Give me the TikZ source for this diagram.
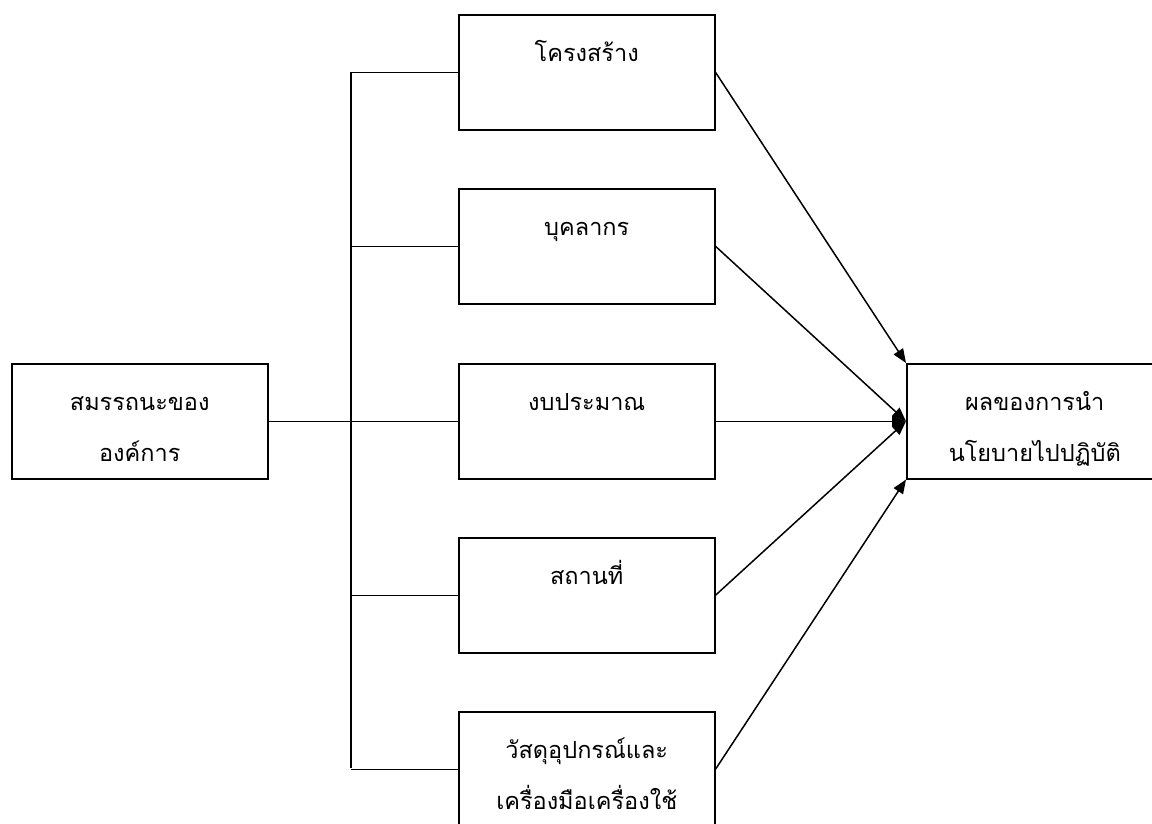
\documentclass[tikz,border=0pt]{standalone}
\usepackage{fontspec}
\newfontfamily\thaifont[Script=Thai]{Loma}
\usetikzlibrary{arrows.meta}
\begin{document}
\begin{tikzpicture}[x=1pt,y=-1pt,
  box/.style={draw,line width=1.5pt,minimum width=256pt,minimum height=115pt,inner sep=0pt,anchor=north west},
  lbl/.style={anchor=base,align=center,inner sep=0pt,font=\thaifont\fontsize{23.5}{51}\selectfont},
  ln/.style={line width=1.5pt},
  arr/.style={line width=1.5pt,-{Triangle[length=14pt,width=11pt]}}]
\useasboundingbox (0,0) rectangle (1152,823);
\begin{scope}
\clip (0,0) rectangle (1152,823);
\node[box] (L) at (11,363) {};
\node[box] (b1) at (458,14) {};
\node[box] (b2) at (458,188) {};
\node[box] (b3) at (458,363) {};
\node[box] (b4) at (458,537) {};
\node[box] (b5) at (458,711) {};
\node[box] (R) at (906,363) {};
\end{scope}
\node[lbl] (tL) at ([yshift=-98pt]L.north) {สมรรถนะของ\\องค์การ};
\node[lbl] (t1) at ([yshift=-47pt]b1.north) {โครงสร้าง};
\node[lbl] (t2) at ([yshift=-47pt]b2.north) {บุคลากร};
\node[lbl] (t3) at ([yshift=-47pt]b3.north) {งบประมาณ};
\node[lbl] (t4) at ([yshift=-47pt]b4.north) {สถานที่};
\node[lbl] (t5) at ([yshift=-98pt]b5.north) {วัสดุอุปกรณ์และ\\เครื่องมือเครื่องใช้};
\node[lbl] (tR) at ([yshift=-98pt]R.north) {ผลของการนำ\\นโยบายไปปฏิบัติ};
\coordinate (top) at (351,72);
\coordinate (bot) at (351,768);
\draw[ln] (top) -- (bot);
\draw[ln] (L.east) -- (b3.west);
\draw[ln] (b1.west -| top) -- (b1.west);
\draw[ln] (b2.west -| top) -- (b2.west);
\draw[ln] (b4.west -| top) -- (b4.west);
\draw[ln] (b5.west -| top) -- (b5.west);
\draw[arr] (b1.east) -- (R.north west);
\draw[arr] (b2.east) -- (R.west);
\draw[arr] (b3.east) -- (R.west);
\draw[arr] (b4.east) -- (R.west);
\draw[arr] (b5.east) -- (R.south west);
\end{tikzpicture}
\end{document}
